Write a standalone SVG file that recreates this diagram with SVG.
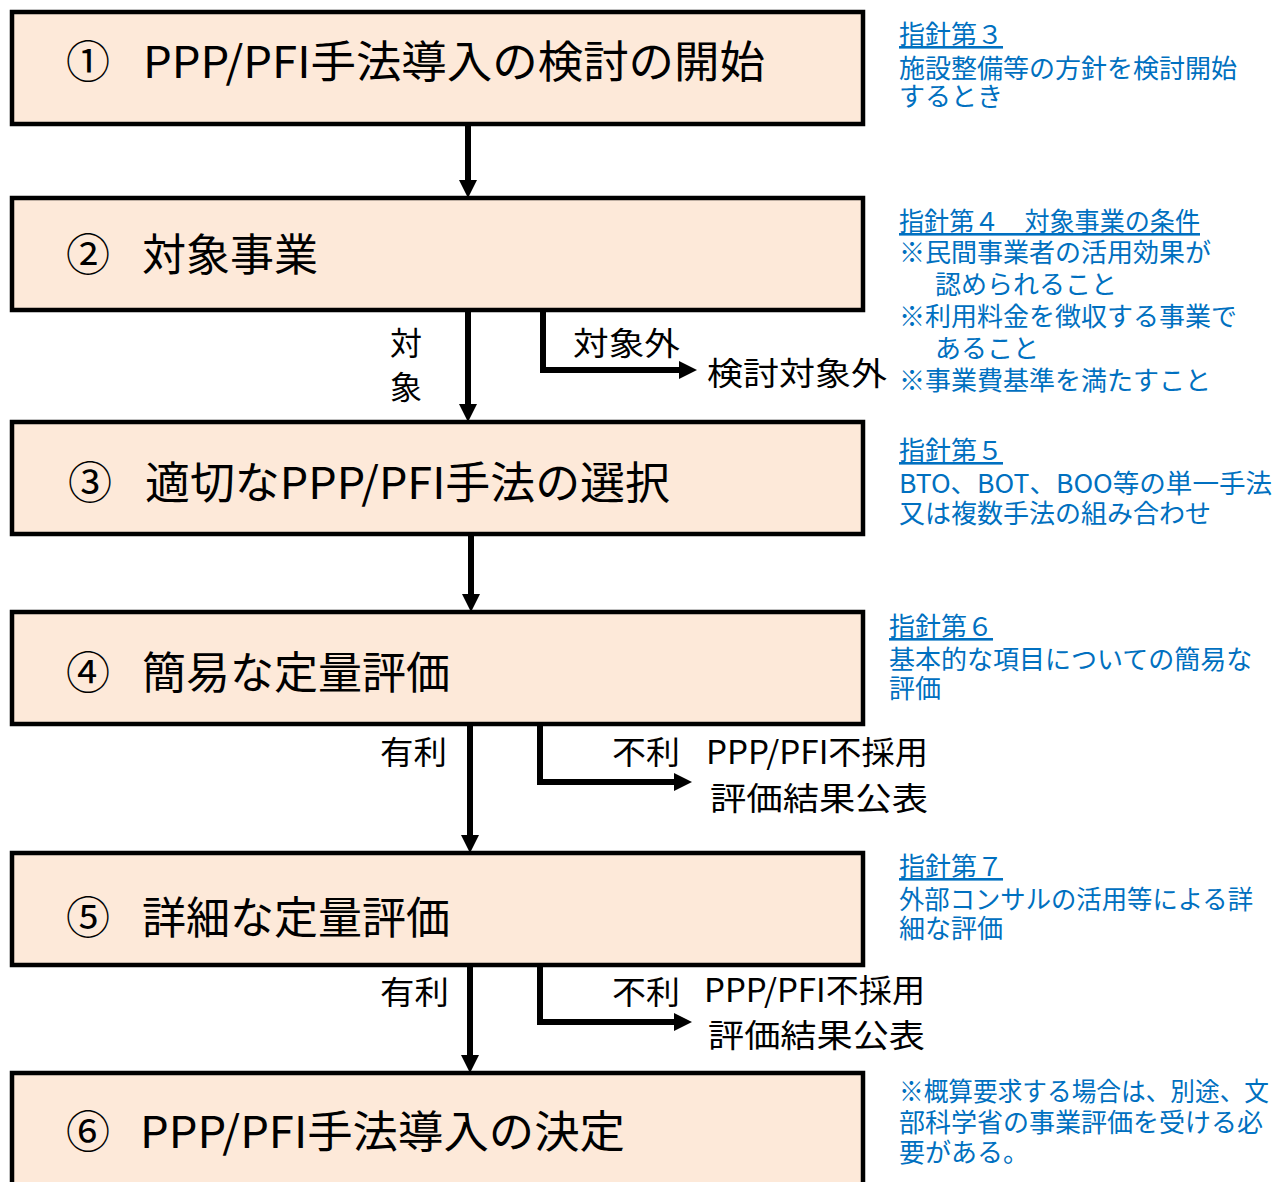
<svg xmlns="http://www.w3.org/2000/svg" width="1279" height="1182" viewBox="0 0 1279 1182">
<style>
.box{fill:#fde9d9;stroke:#000;stroke-width:4.5}
.title{font-family:"Noto Sans CJK JP","Noto Sans",sans-serif;font-size:44px;fill:#000}
.lbl{font-family:"Noto Sans CJK JP","Noto Sans",sans-serif;font-size:32px;fill:#000}
.note{font-family:"Noto Sans CJK JP","Noto Sans",sans-serif;font-size:26px;fill:#0070c0}
.u{text-decoration:underline}
.conn{fill:none;stroke:#000;stroke-width:6;marker-end:url(#ah)}
</style>
<defs>
<marker id="ah" markerUnits="userSpaceOnUse" markerWidth="20" markerHeight="20" refX="6" refY="9" orient="auto" viewBox="0 0 20 20">
<path d="M0,0 L18,9 L0,18 z" fill="#000"/>
</marker>
</defs>
<rect width="1279" height="1182" fill="#fff"/>

<g id="node1"><rect class="box" x="12" y="12" width="851" height="112"/>
<text class="title" x="66" y="78">①</text>
<text class="title" x="143" y="78" textLength="622" lengthAdjust="spacingAndGlyphs">PPP/PFI手法導入の検討の開始</text></g>
<g id="node2"><rect class="box" x="12" y="198" width="851" height="112"/>
<text class="title" x="66" y="271">②</text>
<text class="title" x="142" y="271" textLength="176" lengthAdjust="spacingAndGlyphs">対象事業</text></g>
<g id="node3"><rect class="box" x="12" y="422" width="851" height="112"/>
<text class="title" x="68" y="499">③</text>
<text class="title" x="145" y="499" textLength="525" lengthAdjust="spacingAndGlyphs">適切なPPP/PFI手法の選択</text></g>
<g id="node4"><rect class="box" x="12" y="612" width="851" height="112"/>
<text class="title" x="66" y="689">④</text>
<text class="title" x="142" y="689" textLength="308" lengthAdjust="spacingAndGlyphs">簡易な定量評価</text></g>
<g id="node5"><rect class="box" x="12" y="853" width="851" height="112"/>
<text class="title" x="66" y="934">⑤</text>
<text class="title" x="142" y="934" textLength="308" lengthAdjust="spacingAndGlyphs">詳細な定量評価</text></g>
<g id="node6"><rect class="box" x="12" y="1073" width="851" height="130"/>
<text class="title" x="66" y="1148">⑥</text>
<text class="title" x="140" y="1148" textLength="485" lengthAdjust="spacingAndGlyphs">PPP/PFI手法導入の決定</text></g>

<g id="connectors">
<line class="conn" x1="468" y1="124" x2="468" y2="186"/>
<line class="conn" x1="468" y1="310" x2="468" y2="410"/>
<polyline class="conn" points="543,310 543,370 685,370"/>
<line class="conn" x1="471" y1="534" x2="471" y2="600"/>
<line class="conn" x1="470" y1="724" x2="470" y2="841"/>
<polyline class="conn" points="540,724 540,782 680,782"/>
<line class="conn" x1="470" y1="965" x2="470" y2="1061"/>
<polyline class="conn" points="540,965 540,1022 680,1022"/>
</g>

<g id="labels">
<text class="lbl" x="390" y="355">対</text>
<text class="lbl" x="390" y="399">象</text>
<text class="lbl" x="573" y="355" textLength="107" lengthAdjust="spacingAndGlyphs">対象外</text>
<text class="lbl" x="707" y="385" textLength="180" lengthAdjust="spacingAndGlyphs">検討対象外</text>
<text class="lbl" x="380" y="764" textLength="67" lengthAdjust="spacingAndGlyphs">有利</text>
<text class="lbl" x="612" y="764" textLength="68" lengthAdjust="spacingAndGlyphs">不利</text>
<text class="lbl" x="706" y="764" textLength="222" lengthAdjust="spacingAndGlyphs">PPP/PFI不採用</text>
<text class="lbl" x="710" y="810" textLength="218" lengthAdjust="spacingAndGlyphs">評価結果公表</text>
<text class="lbl" x="380" y="1004" textLength="69" lengthAdjust="spacingAndGlyphs">有利</text>
<text class="lbl" x="612" y="1004" textLength="68" lengthAdjust="spacingAndGlyphs">不利</text>
<text class="lbl" x="704" y="1002" textLength="221" lengthAdjust="spacingAndGlyphs">PPP/PFI不採用</text>
<text class="lbl" x="708" y="1047" textLength="217" lengthAdjust="spacingAndGlyphs">評価結果公表</text>
</g>

<g id="notes">
<text class="note u" x="899" y="44">指針第３</text>
<text class="note" x="899" y="78">施設整備等の方針を検討開始</text>
<text class="note" x="899" y="106">するとき</text>

<text class="note u" x="899" y="231" textLength="301" lengthAdjust="spacingAndGlyphs">指針第４　対象事業の条件</text>
<text class="note" x="899" y="262">※民間事業者の活用効果が</text>
<text class="note" x="935" y="294">認められること</text>
<text class="note" x="899" y="326">※利用料金を徴収する事業で</text>
<text class="note" x="935" y="358">あること</text>
<text class="note" x="899" y="390">※事業費基準を満たすこと</text>

<text class="note u" x="899" y="460">指針第５</text>
<text class="note" x="899" y="493" textLength="373" lengthAdjust="spacingAndGlyphs">BTO、BOT、BOO等の単一手法</text>
<text class="note" x="899" y="523">又は複数手法の組み合わせ</text>

<text class="note u" x="889" y="636">指針第６</text>
<text class="note" x="889" y="669">基本的な項目についての簡易な</text>
<text class="note" x="889" y="698">評価</text>

<text class="note u" x="899" y="876">指針第７</text>
<text class="note" x="899" y="909" textLength="354" lengthAdjust="spacingAndGlyphs">外部コンサルの活用等による詳</text>
<text class="note" x="899" y="938">細な評価</text>

<text class="note" x="899" y="1101" textLength="370" lengthAdjust="spacingAndGlyphs">※概算要求する場合は、別途、文</text>
<text class="note" x="899" y="1132" textLength="364" lengthAdjust="spacingAndGlyphs">部科学省の事業評価を受ける必</text>
<text class="note" x="899" y="1162">要がある。</text>
</g>
</svg>
